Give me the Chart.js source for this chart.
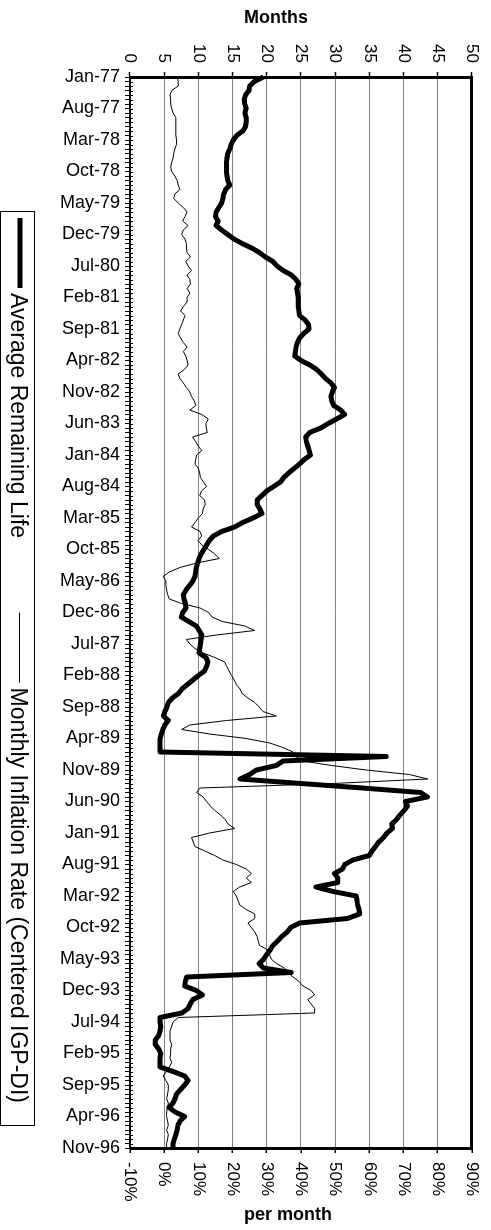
<!DOCTYPE html>
<html>
<head>
<meta charset="utf-8">
<script src="https://cdn.jsdelivr.net/npm/chart.js@4"></script>
<style>
  html, body { margin: 0; padding: 0; overflow: hidden; background: #fff; }
  /* the chart is drawn lying down and turned a quarter turn clockwise */
  #wrap { position: absolute; left: 0; top: 0; width: 1230px; height: 491px;
          transform-origin: 0 0; transform: translateX(491px) rotate(90deg); }
</style>
</head>
<body>
<div id="wrap"><canvas id="lifeChart" width="1230" height="491"></canvas></div>
<script>
const monthNames = ["Jan", "Feb", "Mar", "Apr", "May", "Jun", "Jul", "Aug", "Sep", "Oct", "Nov", "Dec"];
const firstYear = 1977;
const lastYear = 1996;
const lastMonth = 10; // Nov-96

const labels = [];
for (let y = firstYear; y <= lastYear; y++) {
  for (let m = 0; m < 12; m++) {
    if (y === lastYear && m > lastMonth) break;
    labels.push(monthNames[m] + "-" + String(y).slice(2));
  }
}

// average remaining life, months (one value per month, Jan-77 .. Nov-96)
const remainingLife = [
  19.5, 18.2, 17.5, 17.4, 16.9, 16.7, 16.8, 17.0, 16.8, 17.0, 17.0, 16.9,
  16.5, 15.6, 15.1, 14.8, 14.6, 14.3, 14.2, 14.1, 14.1, 14.1, 14.2, 14.3,
  14.6, 14.0, 13.7, 13.6, 13.4, 13.0, 12.6, 12.5, 12.9, 12.6, 13.4, 14.3,
  15.2, 16.4, 17.8, 18.9, 19.8, 20.9, 21.5, 22.4, 23.6, 24.3, 24.7, 24.4,
  24.5, 24.6, 24.6, 24.6, 24.7, 24.8, 25.6, 26.1, 26.2, 25.4, 24.8, 24.5,
  24.3, 24.2, 24.1, 25.0, 26.3, 27.3, 28.0, 28.6, 29.4, 29.9, 29.6, 29.4,
  29.5, 29.8, 30.8, 31.4, 30.2, 29.0, 27.9, 26.3, 25.7, 25.8, 26.0, 26.2,
  26.4, 25.5, 24.8, 24.0, 23.2, 22.5, 22.0, 21.0, 20.0, 19.3, 18.6, 18.6,
  19.0, 19.3, 18.0, 16.5, 15.3, 13.4, 12.2, 11.6, 11.2, 10.8, 10.4, 10.1,
  9.9, 9.7, 9.6, 9.5, 9.2, 8.7, 8.2, 7.8, 7.9, 8.1, 8.2, 7.7,
  7.5, 8.6, 9.7, 10.1, 10.5, 10.4, 10.3, 10.2, 10.1, 11.1, 11.4, 11.2,
  10.9, 10.0, 9.2, 8.4, 7.6, 7.1, 6.2, 5.6, 5.4, 5.1, 4.9, 5.6,
  5.1, 4.8, 4.6, 4.4, 4.4, 4.4, 4.4, 37.5, 22.4, 21.4, 18.5, 17.5,
  16.1, 25.0, 34.0, 42.5, 43.5, 40.3, 40.6, 40.1, 39.5, 39.0, 38.3, 38.4,
  37.6, 37.1, 36.4, 35.9, 35.4, 35.0, 32.6, 31.4, 31.1, 29.9, 30.4, 30.4,
  27.2, 29.7, 33.1, 33.2, 33.3, 33.5, 33.6, 31.8, 24.8, 23.5, 23.0, 22.2,
  21.6, 20.9, 20.5, 20.0, 19.6, 18.9, 19.5, 23.6, 8.3, 8.1, 8.0, 9.7,
  10.6, 9.2, 8.8, 8.5, 7.6, 4.4, 4.4, 4.5, 4.4, 4.2, 3.7, 3.7,
  4.2, 4.5, 4.4, 4.4, 4.4, 6.3, 8.0, 8.5, 8.0, 7.4, 6.8, 6.6,
  6.3, 5.7, 6.6, 8.0, 7.3, 7.0, 6.9, 6.7, 6.5, 6.3, 6.3
];

// monthly inflation rate, centered IGP-DI, % per month
const inflation = [
  3.8, 4.1, 4.1, 2.2, 1.7, 1.9, 1.9, 2.2, 2.6, 3.4, 3.4, 3.4,
  3.4, 3.4, 3.6, 3.6, 3.1, 2.8, 2.6, 2.2, 1.9, 2.2, 3.1, 3.8,
  4.1, 4.6, 3.1, 2.8, 4.1, 5.6, 6.7, 6.1, 5.4, 7.0, 5.6, 5.1,
  6.1, 6.5, 6.5, 6.7, 7.7, 6.3, 7.0, 8.0, 6.7, 7.5, 7.7, 6.7,
  7.5, 6.7, 6.7, 5.6, 4.8, 6.1, 5.6, 5.1, 4.6, 4.1, 4.8, 5.6,
  6.7, 5.6, 6.3, 6.7, 7.0, 5.9, 4.1, 4.6, 5.6, 6.5, 7.5, 8.0,
  8.8, 9.3, 7.5, 11.0, 12.9, 12.2, 12.3, 12.6, 8.3, 9.2, 9.9, 11.0,
  9.5, 9.2, 9.0, 10.0, 10.4, 10.6, 11.5, 12.4, 10.9, 10.4, 11.8, 12.0,
  11.4, 11.2, 10.0, 9.0, 8.0, 10.5, 11.0, 9.9, 11.0, 13.0, 14.8, 16.1,
  9.5, 4.6, 1.5, -0.3, 0.5, 0.5, 0.7, 1.0, 1.5, 5.1, 10.5, 13.0,
  14.0, 17.0, 23.6, 26.5, 15.3, 6.5, 7.5, 9.0, 11.4, 14.8, 17.7, 18.3,
  19.0, 19.7, 20.5, 21.1, 22.2, 22.8, 24.5, 26.5, 27.8, 28.9, 32.8, 18.2,
  7.5, 5.1, 13.3, 24.0, 30.9, 34.7, 37.7, 38.5, 40.5, 49.0, 59.1, 71.7,
  77.1, 49.3, 10.4, 9.5, 11.4, 12.4, 13.5, 14.8, 16.5, 17.8, 18.7, 20.6,
  13.3, 8.0, 8.5, 9.0, 11.9, 14.8, 17.2, 21.1, 24.0, 25.5, 24.0, 25.5,
  22.1, 20.2, 21.1, 21.6, 22.1, 24.0, 26.5, 26.5, 24.5, 25.5, 26.5, 27.2,
  27.5, 27.9, 30.4, 30.8, 31.3, 32.8, 35.2, 36.2, 37.7, 39.5, 40.6, 43.0,
  44.0, 42.0, 43.0, 44.0, 44.0, 4.1, 2.6, 2.2, 1.7, 1.7, 1.7, 2.2,
  1.9, 1.9, 1.7, 2.2, 1.5, 0.7, -0.3, 0.5, 1.2, 1.2, 1.0, 0.7,
  1.2, 1.0, 0.7, 0.7, 1.0, 1.2, 0.7, 1.2, 1.0, 0.7, 0.7
];

const labelEvery = 7;
const seriesNames = ["Average Remaining Life", "Monthly Inflation Rate (Centered IGP-DI)"];

Chart.defaults.font.family = "'Liberation Sans', Arial, sans-serif";
Chart.defaults.color = "#000";

// titles, legend box and the inner half of the month ticks
const extras = {
  id: "extras",
  afterDraw(chart) {
    const ctx = chart.ctx;
    const area = chart.chartArea;
    const x = chart.scales.x;
    ctx.save();
    ctx.strokeStyle = "#000";
    ctx.lineWidth = 1;
    for (let i = 0; i < labels.length; i++) {
      const px = Math.round(x.getPixelForValue(i)) + 0.5;
      ctx.beginPath();
      ctx.moveTo(px, area.bottom);
      ctx.lineTo(px, area.bottom - 3);
      ctx.stroke();
    }

    ctx.fillStyle = "#000";
    ctx.font = "bold 18px 'Liberation Sans', Arial";
    ctx.textAlign = "center";
    ctx.textBaseline = "middle";
    [["Months", 18, 215], ["per month", 1215, 203]].forEach(([t, tx, ty]) => {
      ctx.save();
      ctx.translate(tx, ty);
      ctx.rotate(-Math.PI / 2);
      ctx.fillText(t, 0, 0);
      ctx.restore();
    });

    // legend
    ctx.strokeRect(211.5, 456.5, 914, 34);
    ctx.font = "23px 'Liberation Sans', Arial";
    ctx.textAlign = "left";
    const w2 = ctx.measureText(seriesNames[1]).width;
    const t2 = 1103 - w2;
    ctx.lineWidth = 5;
    ctx.beginPath(); ctx.moveTo(218, 471); ctx.lineTo(288, 471); ctx.stroke();
    ctx.lineWidth = 1;
    ctx.beginPath(); ctx.moveTo(t2 - 75, 471.5); ctx.lineTo(t2 - 5, 471.5); ctx.stroke();
    ctx.fillText(seriesNames[0], 293, 474);
    ctx.fillText(seriesNames[1], t2, 474);
    ctx.restore();
  }
};

const data = {
  labels: labels,
  datasets: [
    {
      label: seriesNames[0],
      data: remainingLife,
      yAxisID: "y",
      borderColor: "#000",
      borderWidth: 5,
      borderJoinStyle: "round",
      pointRadius: 0,
      tension: 0,
    },
    {
      label: seriesNames[1],
      data: inflation,
      yAxisID: "y1",
      borderColor: "#000",
      borderWidth: 1,
      pointRadius: 0,
      tension: 0,
    },
  ],
};

const config = {
  type: "line",
  data: data,
  options: {
    responsive: false,
    animation: false,
    layout: { padding: { top: 18 } },
    plugins: {
      legend: { display: false },
      tooltip: { enabled: false },
    },
    scales: {
      x: {
        offset: false,
        ticks: {
          autoSkip: false,
          minRotation: 90,
          maxRotation: 90,
          padding: 5,
          font: { size: 18 },
          callback: function (value, index) {
            return index % labelEvery === 0 ? this.getLabelForValue(value) : "";
          },
        },
        grid: { drawOnChartArea: false, tickLength: 5, color: "#000", lineWidth: 1 },
        border: { color: "#000", width: 2 },
        afterFit: (s) => { s.height = 130; },
      },
      y: {
        position: "left",
        min: 0,
        max: 50,
        ticks: { stepSize: 5, padding: 9, font: { size: 17 } },
        grid: {
          color: (c) => (c.tick && c.tick.value === 50 ? "#000" : "#808080"),
          lineWidth: (c) => (c.tick && c.tick.value === 50 ? 3 : 1),
          tickLength: 5,
          tickColor: "#000",
          tickWidth: 1.5,
        },
        border: { color: "#000", width: 3 },
        afterFit: (s) => { s.width = 77; },
      },
      y1: {
        position: "right",
        min: -10,
        max: 90,
        ticks: { stepSize: 10, padding: 9, font: { size: 17 }, callback: (v) => v + "%" },
        grid: { drawOnChartArea: false, tickLength: 5, color: "#000", lineWidth: 1.5 },
        border: { color: "#000", width: 3 },
        afterFit: (s) => { s.width = 82; },
      },
    },
  },
  plugins: [extras],
};

let myChart = new Chart(document.getElementById("lifeChart"), config);
</script>
</body>
</html>
